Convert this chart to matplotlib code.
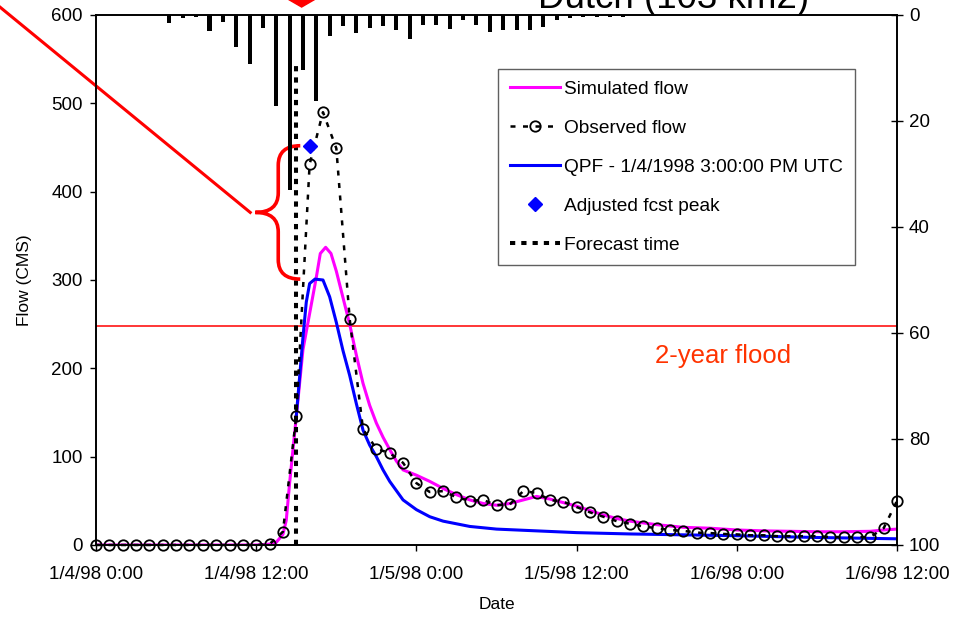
import numpy as np
import matplotlib.pyplot as plt
from matplotlib.path import Path
from matplotlib.patches import PathPatch, Polygon

plt.rcParams['font.family'] = ['Liberation Sans', 'DejaVu Sans']

# Наблюдённый расход, почасово (0..60 ч от 1/4/98 0:00)
obs_hours = np.arange(0, 61)
obs_flow = [0, 0, 0, 0, 0, 0, 0, 0, 0, 0, 0, 0, 0, 1, 15, 146, 431, 490, 449, 256,
            131, 109, 104, 93, 70, 60, 61, 54, 50, 51, 45, 46, 61, 59, 51, 49, 43, 37,
            32, 27, 24, 21, 19, 17, 16, 14, 13.5, 12.5, 12, 11, 11, 10, 10, 10, 10,
            9, 9, 9, 9, 19, 50]

# Смоделированный расход
sim_hours = [0, 12, 13, 13.5, 14, 14.25, 14.5, 15, 15.5, 16, 16.5, 16.8, 17.2, 17.6, 18,
             18.5, 19, 19.5, 20, 20.5, 21, 21.5, 22, 22.5, 23, 24, 25, 26, 27, 28, 29,
             30, 31, 32, 33, 34, 35, 36, 37, 38, 39, 40, 42, 44, 46, 48, 50, 52, 54,
             56, 58, 59, 60]
sim_flow = [0, 0, 1, 3, 12, 28, 70, 145, 221, 262, 303, 330, 337, 330, 310,
            280, 250, 215, 183, 158, 138, 122, 108, 95, 85, 79, 72, 64, 57, 51, 47,
            45, 47, 51, 55, 52, 48, 44, 39, 34, 30, 27, 23, 20, 19, 17, 16, 15.5, 15,
            15, 15.5, 17, 18]

# Прогноз по QPF
qpf_hours = [15, 15.25, 15.5, 15.75, 16, 16.4, 17, 17.5, 18, 18.5, 19, 19.5, 20, 20.5,
             21, 21.5, 22, 23, 24, 25, 26, 27, 28, 30, 33, 36, 40, 44, 48, 54, 60]
qpf_flow = [146, 190, 235, 275, 296, 301, 300, 281, 252, 220, 192, 160, 130, 113,
            100, 85, 72, 51, 40, 32, 27, 24, 21, 18, 16, 14, 12.5, 11.5, 10.5, 8.5, 7]

# Осадки (правая ось, перевёрнутая)
precip_hours = np.arange(5.5, 40, 1.0)
precip = [1.5, 0.6, 0.4, 3.0, 1.3, 6.0, 9.3, 2.5, 17.1, 33.0, 10.4, 16.2, 4.0, 2.0,
          3.4, 2.5, 2.1, 2.8, 4.6, 1.8, 1.8, 2.6, 0.9, 1.8, 3.3, 2.9, 2.9, 2.9, 2.2,
          0.9, 0.6, 0.3, 0.3, 0.3, 0.3]

adj_peak_hour = 16
adj_peak = 452
forecast_hour = 15
forecast_top = 545
flood_2yr = 248

x_ticks = [0, 12, 24, 36, 48, 60]
x_labels = ['1/4/98 0:00', '1/4/98 12:00', '1/5/98 0:00', '1/5/98 12:00',
            '1/6/98 0:00', '1/6/98 12:00']

fig = plt.figure(figsize=(9.69, 6.17), dpi=100)
ax = fig.add_axes([0.0991, 0.1167, 0.8266, 0.859])

ax.axhline(flood_2yr, color='#FF0000', lw=1.1, zorder=1)
l_sim, = ax.plot(sim_hours, sim_flow, color='#FF00FF', lw=2.2, label='Simulated flow', zorder=2)
l_qpf, = ax.plot(qpf_hours, qpf_flow, color='#0000FF', lw=2.2,
                 label='QPF - 1/4/1998 3:00:00 PM UTC', zorder=2)
l_obs, = ax.plot(obs_hours, obs_flow, color='black', lw=1.8, dashes=(2, 3),
                 marker='o', ms=7.5, mfc='none', mec='black', mew=1.3,
                 label='Observed flow', zorder=3, clip_on=False)
l_adj, = ax.plot([adj_peak_hour], [adj_peak], ls='none', marker='D', ms=7,
                 color='#0000FF', label='Adjusted fcst peak', zorder=4)
l_fc, = ax.plot([forecast_hour, forecast_hour], [0, forecast_top], color='black',
                lw=2.9, dashes=(1.3, 1.5), label='Forecast time', zorder=3)

ax.set_xlim(0, 60)
ax.set_ylim(0, 600)
ax.set_xticks(x_ticks)
ax.set_xticklabels(x_labels)
ax.set_yticks(range(0, 601, 100))
ax.tick_params(axis='both', direction='out', length=4.5, width=1, labelsize=13.5, pad=5)
ax.tick_params(axis='x', pad=10.5)
ax.set_xlabel('Date', fontsize=12.5, labelpad=10)
ax.set_ylabel('Flow (CMS)', fontsize=12.5, labelpad=14)
for s in ax.spines.values():
    s.set_linewidth(1.2)

# Скобка: от пика QPF до скорректированного пика
y_top = adj_peak
y_bot = max(qpf_flow)
y_mid = (y_top + y_bot) / 2
x_end, x_v, x_tip = 15.3, 13.65, 11.93
r = 22
verts = [(x_end, y_top), (x_v, y_top), (x_v, y_top - r),
         (x_v, y_mid + r), (x_v, y_mid), (x_tip, y_mid),
         (x_v, y_mid), (x_v, y_mid - r),
         (x_v, y_bot + r), (x_v, y_bot), (x_end, y_bot)]
codes = [Path.MOVETO, Path.CURVE3, Path.CURVE3,
         Path.LINETO, Path.CURVE3, Path.CURVE3,
         Path.CURVE3, Path.CURVE3,
         Path.LINETO, Path.CURVE3, Path.CURVE3]
ax.add_patch(PathPatch(Path(verts, codes), fill=False, ec='#FF0000', lw=2.6,
                       clip_on=False, zorder=5))
ax.plot([-7.2, 11.55], [609, y_mid], color='#FF0000', lw=2.2, clip_on=False, zorder=5)

# Красная стрелка вверху
ax.add_patch(Polygon([(15.4, 609), (13.0, 630), (17.8, 630)], closed=True,
                     color='#FF0000', clip_on=False, zorder=5))

ax.text(41.9, 206, '2-year flood', color='#FF3300', fontsize=18.5, va='baseline')

leg = ax.legend(handles=[l_sim, l_obs, l_qpf, l_adj, l_fc], loc='upper left',
                bbox_to_anchor=(0.502, 0.898), fontsize=13.8, frameon=True,
                fancybox=False, framealpha=1, edgecolor='#606060',
                handlelength=2.65, handletextpad=0.2, labelspacing=1.12,
                borderpad=0.6, borderaxespad=0)
leg.get_frame().set_linewidth(1)

ax2 = ax.twinx()
ax2.bar(precip_hours, precip, width=0.3, color='black', zorder=2)
ax2.set_ylim(100, 0)
ax2.set_yticks(range(0, 101, 20))
ax2.tick_params(axis='y', direction='inout', length=9, width=1, labelsize=13.5, pad=4)
for s in ax2.spines.values():
    s.set_linewidth(1.2)

fig.text(538 / 969, 1 - 8 / 617, 'Dutch (103 km2)', fontsize=26.5, va='baseline')

fig.savefig('out.png', dpi=100)
